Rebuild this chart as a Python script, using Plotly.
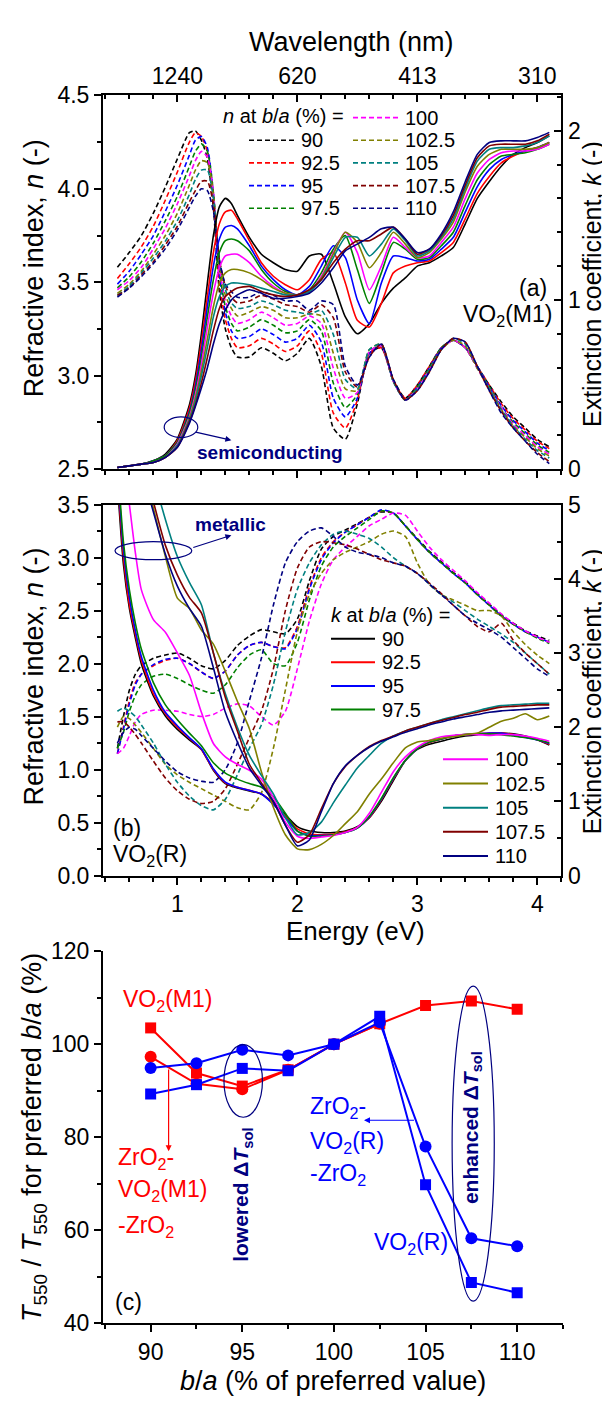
import plotly.graph_objects as go

# ---------------- data ----------------
ratios = ["90", "92.5", "95", "97.5", "100", "102.5", "105", "107.5", "110"]
colors = ["#000000", "#FF0000", "#0000FF", "#008000", "#FF00FF",
          "#808000", "#008080", "#800000", "#000080"]

# panel (a): VO2(M1)
E_a = [0.5, 0.6, 0.7, 0.8, 0.9, 1.0, 1.1, 1.15, 1.2, 1.25, 1.3, 1.35, 1.4, 1.45, 1.5,
       1.6, 1.7, 1.8, 1.9, 2.0, 2.1, 2.2, 2.3, 2.4, 2.5, 2.6, 2.7, 2.8, 2.9, 3.0,
       3.1, 3.2, 3.3, 3.4, 3.5, 3.6, 3.7, 3.8, 3.9, 4.0, 4.1]
n_M1 = [
    [3.58, 3.66, 3.75, 3.87, 4.01, 4.16, 4.30, 4.31, 4.26, 4.16, 3.90, 3.45, 3.25, 3.15, 3.10, 3.10, 3.15, 3.12, 3.08, 3.12, 3.20, 3.05, 2.72, 2.66, 2.85, 3.12, 3.15, 2.98, 2.88, 2.95, 3.05, 3.15, 3.19, 3.15, 3.05, 2.95, 2.86, 2.78, 2.72, 2.66, 2.62],
    [3.52, 3.60, 3.69, 3.80, 3.94, 4.09, 4.25, 4.30, 4.28, 4.20, 3.95, 3.50, 3.30, 3.20, 3.15, 3.16, 3.20, 3.17, 3.13, 3.16, 3.24, 3.12, 2.80, 2.72, 2.87, 3.12, 3.15, 2.97, 2.88, 2.95, 3.05, 3.15, 3.19, 3.15, 3.05, 2.95, 2.85, 2.77, 2.71, 2.65, 2.61],
    [3.49, 3.56, 3.65, 3.75, 3.88, 4.02, 4.18, 4.26, 4.28, 4.22, 3.98, 3.54, 3.34, 3.24, 3.20, 3.21, 3.25, 3.22, 3.18, 3.20, 3.27, 3.18, 2.88, 2.78, 2.88, 3.12, 3.16, 2.97, 2.87, 2.94, 3.04, 3.15, 3.19, 3.15, 3.05, 2.94, 2.84, 2.76, 2.70, 2.64, 2.60],
    [3.47, 3.53, 3.61, 3.71, 3.83, 3.96, 4.12, 4.20, 4.24, 4.20, 3.98, 3.56, 3.37, 3.28, 3.24, 3.26, 3.30, 3.27, 3.23, 3.24, 3.30, 3.24, 2.96, 2.83, 2.90, 3.13, 3.16, 2.97, 2.87, 2.94, 3.04, 3.15, 3.19, 3.15, 3.04, 2.94, 2.83, 2.75, 2.69, 2.63, 2.59],
    [3.46, 3.51, 3.58, 3.68, 3.79, 3.92, 4.07, 4.15, 4.20, 4.17, 3.98, 3.58, 3.40, 3.32, 3.28, 3.30, 3.34, 3.31, 3.27, 3.28, 3.32, 3.28, 3.04, 2.88, 2.91, 3.13, 3.16, 2.97, 2.87, 2.93, 3.03, 3.14, 3.19, 3.15, 3.04, 2.93, 2.83, 2.74, 2.68, 2.62, 2.58],
    [3.44, 3.49, 3.56, 3.65, 3.75, 3.87, 4.02, 4.10, 4.15, 4.14, 3.97, 3.60, 3.43, 3.36, 3.32, 3.34, 3.37, 3.35, 3.31, 3.31, 3.33, 3.32, 3.12, 2.93, 2.92, 3.14, 3.17, 2.97, 2.87, 2.93, 3.03, 3.14, 3.19, 3.16, 3.04, 2.93, 2.82, 2.73, 2.67, 2.61, 2.57],
    [3.43, 3.48, 3.55, 3.63, 3.72, 3.83, 3.97, 4.05, 4.10, 4.10, 3.95, 3.62, 3.46, 3.39, 3.36, 3.37, 3.40, 3.38, 3.35, 3.34, 3.33, 3.35, 3.22, 2.98, 2.93, 3.14, 3.17, 2.97, 2.87, 2.93, 3.03, 3.14, 3.20, 3.17, 3.05, 2.93, 2.82, 2.73, 2.66, 2.60, 2.56],
    [3.43, 3.47, 3.54, 3.61, 3.70, 3.80, 3.93, 3.99, 4.04, 4.04, 3.92, 3.62, 3.48, 3.42, 3.39, 3.40, 3.43, 3.41, 3.38, 3.37, 3.34, 3.38, 3.31, 3.02, 2.94, 3.10, 3.17, 2.98, 2.87, 2.92, 3.02, 3.14, 3.20, 3.18, 3.05, 2.92, 2.81, 2.72, 2.65, 2.59, 2.54],
    [3.42, 3.47, 3.53, 3.60, 3.68, 3.78, 3.90, 3.96, 4.00, 3.99, 3.88, 3.62, 3.49, 3.45, 3.42, 3.42, 3.45, 3.43, 3.40, 3.40, 3.35, 3.40, 3.38, 3.05, 2.95, 3.10, 3.17, 2.98, 2.87, 2.92, 3.02, 3.14, 3.20, 3.18, 3.05, 2.92, 2.80, 2.72, 2.65, 2.58, 2.53],
]
k_M1 = [
    [0.01, 0.02, 0.03, 0.05, 0.09, 0.18, 0.38, 0.55, 0.80, 1.10, 1.38, 1.55, 1.60, 1.57, 1.50, 1.37, 1.27, 1.22, 1.18, 1.17, 1.26, 1.27, 1.10, 0.90, 0.80, 0.86, 0.98, 1.07, 1.13, 1.20, 1.22, 1.26, 1.31, 1.45, 1.60, 1.70, 1.79, 1.86, 1.90, 1.93, 1.97],
    [0.01, 0.02, 0.03, 0.05, 0.08, 0.17, 0.36, 0.52, 0.75, 1.02, 1.28, 1.45, 1.52, 1.53, 1.48, 1.35, 1.22, 1.14, 1.09, 1.06, 1.12, 1.24, 1.28, 1.10, 0.88, 0.84, 0.98, 1.16, 1.20, 1.22, 1.23, 1.28, 1.34, 1.48, 1.63, 1.73, 1.81, 1.85, 1.88, 1.90, 1.93],
    [0.01, 0.02, 0.03, 0.05, 0.08, 0.16, 0.34, 0.49, 0.70, 0.96, 1.20, 1.36, 1.43, 1.44, 1.42, 1.32, 1.20, 1.12, 1.06, 1.03, 1.08, 1.20, 1.32, 1.25, 1.00, 0.86, 1.10, 1.26, 1.25, 1.23, 1.24, 1.30, 1.37, 1.52, 1.67, 1.77, 1.83, 1.86, 1.88, 1.90, 1.93],
    [0.01, 0.02, 0.03, 0.05, 0.08, 0.16, 0.33, 0.47, 0.66, 0.90, 1.12, 1.28, 1.35, 1.36, 1.35, 1.29, 1.18, 1.10, 1.05, 1.03, 1.06, 1.16, 1.30, 1.38, 1.18, 0.98, 1.16, 1.34, 1.30, 1.24, 1.25, 1.32, 1.40, 1.56, 1.71, 1.80, 1.85, 1.86, 1.87, 1.89, 1.92],
    [0.01, 0.02, 0.03, 0.04, 0.07, 0.15, 0.31, 0.44, 0.62, 0.84, 1.04, 1.19, 1.26, 1.27, 1.27, 1.22, 1.14, 1.08, 1.04, 1.03, 1.05, 1.14, 1.28, 1.40, 1.28, 1.06, 1.20, 1.37, 1.31, 1.25, 1.26, 1.34, 1.43, 1.60, 1.75, 1.83, 1.87, 1.88, 1.88, 1.89, 1.92],
    [0.01, 0.02, 0.03, 0.04, 0.07, 0.14, 0.30, 0.42, 0.58, 0.77, 0.96, 1.10, 1.16, 1.18, 1.18, 1.16, 1.12, 1.07, 1.04, 1.03, 1.05, 1.13, 1.27, 1.40, 1.34, 1.19, 1.28, 1.40, 1.33, 1.25, 1.28, 1.36, 1.46, 1.64, 1.79, 1.86, 1.89, 1.89, 1.89, 1.90, 1.93],
    [0.01, 0.02, 0.03, 0.04, 0.07, 0.14, 0.29, 0.40, 0.55, 0.72, 0.90, 1.02, 1.08, 1.10, 1.10, 1.09, 1.07, 1.05, 1.03, 1.03, 1.05, 1.12, 1.25, 1.37, 1.37, 1.26, 1.33, 1.42, 1.35, 1.26, 1.29, 1.37, 1.48, 1.66, 1.82, 1.89, 1.90, 1.90, 1.91, 1.93, 1.97],
    [0.01, 0.02, 0.03, 0.04, 0.07, 0.13, 0.28, 0.38, 0.51, 0.66, 0.82, 0.95, 1.02, 1.05, 1.07, 1.08, 1.05, 1.03, 1.02, 1.03, 1.06, 1.12, 1.22, 1.30, 1.35, 1.35, 1.39, 1.43, 1.36, 1.27, 1.30, 1.38, 1.50, 1.68, 1.84, 1.91, 1.92, 1.92, 1.92, 1.94, 1.98],
    [0.01, 0.02, 0.03, 0.04, 0.07, 0.13, 0.27, 0.37, 0.48, 0.60, 0.74, 0.86, 0.94, 1.00, 1.03, 1.06, 1.04, 1.01, 1.01, 1.02, 1.04, 1.10, 1.19, 1.29, 1.33, 1.37, 1.42, 1.43, 1.36, 1.28, 1.30, 1.39, 1.52, 1.70, 1.86, 1.93, 1.94, 1.94, 1.94, 1.96, 1.99],
]

# panel (b): VO2(R)
E_b = [0.5, 0.55, 0.6, 0.65, 0.7, 0.8, 0.9, 1.0, 1.1, 1.2, 1.3, 1.4, 1.5, 1.6, 1.7,
       1.8, 1.9, 2.0, 2.1, 2.2, 2.3, 2.4, 2.5, 2.6, 2.7, 2.8, 2.9, 3.0, 3.1, 3.2,
       3.3, 3.4, 3.5, 3.6, 3.7, 3.8, 3.9, 4.0, 4.1]
n_R = [
    [1.20, 1.50, 1.75, 1.90, 1.98, 2.05, 2.08, 2.10, 2.05, 1.98, 1.95, 2.03, 2.17, 2.26, 2.32, 2.30, 2.28, 2.42, 2.78, 3.08, 3.20, 3.26, 3.32, 3.38, 3.43, 3.42, 3.30, 3.18, 3.06, 2.96, 2.86, 2.77, 2.66, 2.56, 2.46, 2.38, 2.31, 2.26, 2.22],
    [1.15, 1.40, 1.65, 1.82, 1.90, 1.98, 2.03, 2.05, 2.00, 1.92, 1.86, 1.93, 2.08, 2.17, 2.20, 2.16, 2.15, 2.35, 2.72, 3.00, 3.15, 3.24, 3.31, 3.38, 3.44, 3.42, 3.30, 3.17, 3.05, 2.95, 2.85, 2.76, 2.65, 2.55, 2.45, 2.37, 2.30, 2.25, 2.20],
    [1.15, 1.38, 1.62, 1.80, 1.90, 1.99, 2.04, 2.05, 2.00, 1.92, 1.86, 1.93, 2.08, 2.17, 2.20, 2.16, 2.14, 2.33, 2.70, 2.98, 3.14, 3.24, 3.31, 3.38, 3.45, 3.42, 3.30, 3.17, 3.05, 2.95, 2.85, 2.76, 2.65, 2.55, 2.45, 2.37, 2.30, 2.25, 2.20],
    [1.20, 1.35, 1.55, 1.70, 1.80, 1.88, 1.90, 1.86, 1.80, 1.75, 1.72, 1.80, 1.96, 2.08, 2.13, 2.00, 1.98, 2.20, 2.60, 2.92, 3.10, 3.20, 3.28, 3.36, 3.44, 3.42, 3.30, 3.17, 3.05, 2.95, 2.85, 2.76, 2.65, 2.55, 2.45, 2.37, 2.30, 2.24, 2.19],
    [1.15, 1.20, 1.32, 1.45, 1.52, 1.56, 1.56, 1.55, 1.52, 1.50, 1.52, 1.58, 1.62, 1.60, 1.50, 1.42, 1.55, 1.95, 2.40, 2.75, 2.98, 3.10, 3.20, 3.30, 3.36, 3.42, 3.40, 3.25, 3.10, 2.98, 2.88, 2.78, 2.67, 2.57, 2.47, 2.38, 2.31, 2.25, 2.20],
    [1.40, 1.50, 1.48, 1.42, 1.35, 1.20, 1.05, 0.95, 0.88, 0.82, 0.76, 0.70, 0.64, 0.62, 0.78, 1.20, 1.75, 2.30, 2.65, 2.85, 2.98, 3.05, 3.10, 3.15, 3.22, 3.25, 3.20, 2.95, 2.75, 2.65, 2.60, 2.55, 2.50, 2.50, 2.45, 2.30, 2.18, 2.08, 2.00],
    [1.55, 1.58, 1.55, 1.50, 1.42, 1.25, 1.05, 0.88, 0.75, 0.66, 0.62, 0.72, 0.95, 1.20, 1.42, 1.80, 2.30, 2.70, 2.95, 3.12, 3.22, 3.25, 3.22, 3.18, 3.10, 3.00, 2.92, 2.85, 2.75, 2.65, 2.58, 2.50, 2.42, 2.35, 2.28, 2.20, 2.10, 2.00, 1.90],
    [1.45, 1.45, 1.40, 1.33, 1.25, 1.08, 0.92, 0.80, 0.72, 0.68, 0.70, 0.82, 1.05, 1.30, 1.55, 1.95, 2.50, 2.90, 3.10, 3.15, 3.14, 3.12, 3.08, 3.03, 2.98, 2.95, 2.92, 2.85, 2.76, 2.66, 2.55, 2.45, 2.35, 2.30, 2.38, 2.22, 2.10, 2.00, 1.90],
    [1.25, 1.35, 1.40, 1.38, 1.32, 1.20, 1.08, 0.98, 0.92, 0.89, 0.88, 1.00, 1.25, 1.65, 2.05, 2.55, 2.95, 3.15, 3.25, 3.28, 3.20, 3.10, 3.05, 3.03, 3.00, 2.95, 2.92, 2.85, 2.75, 2.65, 2.55, 2.45, 2.38, 2.32, 2.25, 2.15, 2.05, 1.95, 1.88],
]
k_R = [
    [5.30, 4.20, 3.60, 3.20, 2.85, 2.42, 2.15, 1.97, 1.83, 1.70, 1.42, 1.24, 1.18, 1.14, 1.10, 0.98, 0.82, 0.66, 0.60, 0.58, 0.58, 0.60, 0.66, 0.78, 1.00, 1.28, 1.55, 1.70, 1.77, 1.81, 1.85, 1.88, 1.90, 1.91, 1.92, 1.91, 1.88, 1.83, 1.76],
    [5.40, 4.30, 3.65, 3.25, 2.90, 2.45, 2.18, 2.00, 1.85, 1.70, 1.43, 1.25, 1.19, 1.15, 1.10, 0.97, 0.80, 0.63, 0.56, 0.55, 0.56, 0.59, 0.65, 0.78, 1.02, 1.30, 1.55, 1.71, 1.79, 1.84, 1.88, 1.90, 1.91, 1.92, 1.92, 1.90, 1.87, 1.83, 1.77],
    [5.50, 4.40, 3.75, 3.30, 2.95, 2.50, 2.20, 2.02, 1.86, 1.71, 1.44, 1.26, 1.19, 1.15, 1.10, 0.96, 0.78, 0.60, 0.54, 0.54, 0.55, 0.58, 0.64, 0.79, 1.03, 1.31, 1.55, 1.71, 1.80, 1.84, 1.88, 1.90, 1.91, 1.92, 1.92, 1.89, 1.86, 1.83, 1.78],
    [5.60, 4.50, 3.85, 3.40, 3.05, 2.60, 2.30, 2.10, 1.92, 1.75, 1.52, 1.38, 1.30, 1.24, 1.19, 1.06, 0.84, 0.60, 0.53, 0.53, 0.55, 0.58, 0.64, 0.80, 1.04, 1.32, 1.55, 1.71, 1.80, 1.84, 1.88, 1.90, 1.91, 1.91, 1.90, 1.88, 1.86, 1.83, 1.79],
    [6.50, 5.60, 5.00, 4.35, 3.85, 3.45, 3.28, 3.00, 2.70, 2.20, 1.78, 1.60, 1.50, 1.42, 1.30, 1.05, 0.72, 0.53, 0.50, 0.52, 0.54, 0.58, 0.65, 0.84, 1.12, 1.40, 1.60, 1.73, 1.82, 1.87, 1.89, 1.90, 1.90, 1.89, 1.90, 1.90, 1.88, 1.85, 1.81],
    [8.00, 7.50, 7.00, 6.30, 5.60, 4.95, 4.30, 3.74, 3.60, 3.31, 3.12, 2.75, 2.35, 1.98, 1.40, 0.92, 0.55, 0.36, 0.35, 0.42, 0.54, 0.70, 0.86, 1.10, 1.30, 1.52, 1.72, 1.80, 1.82, 1.85, 1.87, 1.90, 1.92, 2.00, 2.08, 2.12, 2.18, 2.10, 2.15],
    [8.00, 7.60, 7.20, 6.70, 6.20, 5.40, 4.80, 4.30, 3.95, 3.65, 3.00, 2.45, 2.00, 1.62, 1.35, 1.10, 0.78, 0.55, 0.58, 0.72, 0.98, 1.22, 1.45, 1.62, 1.78, 1.88, 1.95, 2.00, 2.05, 2.10, 2.14, 2.18, 2.22, 2.26, 2.29, 2.30, 2.31, 2.32, 2.32],
    [8.00, 7.40, 6.80, 6.20, 5.70, 5.04, 4.45, 4.05, 3.75, 3.54, 3.00, 2.40, 1.95, 1.50, 1.25, 1.00, 0.68, 0.45, 0.55, 0.90, 1.24, 1.47, 1.62, 1.74, 1.82, 1.88, 1.95, 2.00, 2.05, 2.09, 2.13, 2.17, 2.20, 2.24, 2.27, 2.28, 2.29, 2.30, 2.30],
    [8.00, 7.20, 6.60, 6.00, 5.50, 4.90, 4.33, 3.90, 3.60, 3.36, 2.80, 2.20, 1.80, 1.45, 1.22, 1.00, 0.68, 0.40, 0.48, 0.86, 1.24, 1.48, 1.62, 1.73, 1.81, 1.87, 1.93, 1.98, 2.03, 2.07, 2.11, 2.14, 2.17, 2.20, 2.22, 2.23, 2.24, 2.25, 2.26],
]

# panel (c): T550 / T550(preferred b/a)
ba = [90, 92.5, 95, 97.5, 100, 102.5, 105, 107.5, 110]
T_M1 = [103.5, 93.8, 91.0, 94.5, 100.0, 104.4, 108.3, 109.3, 107.5]
T_ZMZ = [97.3, 91.5, 90.3, 94.5, 100.0, 104.4]
T_ZRZ = [94.9, 95.9, 98.8, 97.6, 100.0, 104.7, 78.0, 58.3, 56.6]
T_R = [89.3, 91.3, 94.8, 94.3, 100.0, 106.0, 69.8, 48.8, 46.6]

wl_tick_E = [1, 2, 3, 4]
wl_tick_text = ["1240", "620", "413", "310"]

# ---------------- figure ----------------
W, H = 610, 1403
FONT = "Liberation Sans, Arial, sans-serif"
NAVY = "#000080"
RED, BLUE = "#FF0000", "#0000FF"


def px(x):
    return x / W


def py(y):
    return 1 - y / H


fig = go.Figure()

DASH = "5px,3px"
for i, r in enumerate(ratios):
    fig.add_trace(go.Scatter(x=E_a, y=n_M1[i], mode="lines", xaxis="x", yaxis="y",
                             line=dict(color=colors[i], width=1.6, dash=DASH, shape="spline", smoothing=0.6),
                             showlegend=False, name="n " + r))
for i, r in enumerate(ratios):
    fig.add_trace(go.Scatter(x=E_a, y=k_M1[i], mode="lines", xaxis="x2", yaxis="y2",
                             line=dict(color=colors[i], width=1.6, shape="spline", smoothing=0.6),
                             showlegend=False, name="k " + r))
for i, r in enumerate(ratios):
    fig.add_trace(go.Scatter(x=E_b, y=n_R[i], mode="lines", xaxis="x3", yaxis="y3",
                             line=dict(color=colors[i], width=1.6, dash=DASH, shape="spline", smoothing=0.6),
                             showlegend=False, name="n " + r))
for i, r in enumerate(ratios):
    fig.add_trace(go.Scatter(x=E_b, y=k_R[i], mode="lines", xaxis="x3", yaxis="y4",
                             line=dict(color=colors[i], width=1.6, shape="spline", smoothing=0.6),
                             showlegend=False, name="k " + r))

fig.add_trace(go.Scatter(x=ba, y=T_M1, mode="lines+markers", xaxis="x4", yaxis="y5",
                         line=dict(color=RED, width=2), marker=dict(symbol="square", size=11, color=RED),
                         showlegend=False))
fig.add_trace(go.Scatter(x=ba[:len(T_ZMZ)], y=T_ZMZ, mode="lines+markers", xaxis="x4", yaxis="y5",
                         line=dict(color=RED, width=2), marker=dict(symbol="circle", size=12, color=RED),
                         showlegend=False))
fig.add_trace(go.Scatter(x=ba, y=T_ZRZ, mode="lines+markers", xaxis="x4", yaxis="y5",
                         line=dict(color=BLUE, width=2), marker=dict(symbol="circle", size=12, color=BLUE),
                         showlegend=False))
fig.add_trace(go.Scatter(x=ba, y=T_R, mode="lines+markers", xaxis="x4", yaxis="y5",
                         line=dict(color=BLUE, width=2), marker=dict(symbol="square", size=11, color=BLUE),
                         showlegend=False))

XD = [px(95), px(553.3)]
YA = [py(456.7), py(75.7)]
YB = [py(870.7), py(492.7)]
XC = [px(95), px(555)]
YC = [py(1327), py(947.7)]
TF = dict(family=FONT, size=23, color="black")


def ax(**kw):
    d = dict(showgrid=False, zeroline=False, showline=True, linecolor="black", linewidth=2,
             tickcolor="black", tickwidth=1.5, ticklen=7, tickfont=TF)
    d.update(kw)
    return d


def mn(dt, side, t0=0):
    return dict(dtick=dt, tick0=t0, ticks=side, ticklen=4, tickwidth=1.5, tickcolor="black", showgrid=False)


ER = [0.38, 4.2]
fig.update_layout(
    width=W, height=H, margin=dict(l=0, r=0, t=0, b=0),
    paper_bgcolor="white", plot_bgcolor="white", showlegend=False,
    font=dict(family=FONT, color="black"),
    xaxis=ax(domain=XD, anchor="y", range=ER, tickvals=wl_tick_E, showticklabels=False,
             ticks="outside", minor=mn(0.2, "outside")),
    xaxis2=ax(overlaying="x", anchor="y2", side="top", range=ER, tickmode="array", tickvals=wl_tick_E,
              ticktext=wl_tick_text, showticklabels=True, ticks="inside", minor=mn(0.2, "inside")),
    yaxis=ax(domain=YA, anchor="x", range=[2.5, 4.5], dtick=0.5, tick0=2.5, tickformat=".1f",
             ticks="outside", minor=mn(0.25, "outside", 2.5)),
    yaxis2=ax(overlaying="y", anchor="x2", side="right", range=[0, 2.209], tickvals=[0, 1, 2],
              ticks="inside", minor=mn(0.2, "inside")),
    xaxis3=ax(domain=XD, anchor="y3", range=ER, tickvals=[1, 2, 3, 4], ticks="outside",
              mirror=True, minor=mn(0.2, "outside")),
    yaxis3=ax(domain=YB, anchor="x3", range=[0, 3.5], dtick=0.5, tick0=0, tickformat=".1f",
              ticks="outside", minor=mn(0.25, "outside")),
    yaxis4=ax(overlaying="y3", anchor="x3", side="right", range=[0, 5], dtick=1,
              ticks="inside", minor=mn(0.5, "inside")),
    xaxis4=ax(domain=XC, anchor="y5", range=[87.4, 112.5], tickvals=[90, 95, 100, 105, 110],
              ticks="outside", minor=mn(2.5, "outside", 87.5)),
    xaxis5=ax(overlaying="x4", anchor="y5", side="top", range=[87.4, 112.5],
              tickvals=[90, 95, 100, 105, 110], showticklabels=False, ticks="inside",
              minor=mn(2.5, "inside", 87.5)),
    yaxis5=ax(domain=YC, anchor="x4", range=[40, 120], dtick=20, ticks="outside",
              minor=mn(10, "outside")),
    yaxis6=ax(overlaying="y5", anchor="x4", side="right", range=[40, 120], dtick=20,
              showticklabels=False, ticks="inside", minor=mn(10, "inside")),
)

ann = []


def txt(x, y, s, size=22, color="black", xanchor="left", angle=0, bold=False):
    if bold:
        s = "<b>" + s + "</b>"
    ann.append(dict(x=px(x), y=py(y), xref="paper", yref="paper", text=s, showarrow=False,
                    xanchor=xanchor, yanchor="middle", textangle=angle,
                    font=dict(family=FONT, size=size, color=color)))


# axis titles
TS = 27
txt(343, 21, "Wavelength (nm)", TS, xanchor="center")
txt(347, 927, "Energy (eV)", 26, xanchor="center")
txt(325, 1386, "<i>b</i>/<i>a</i> (% of preferred value)", TS, xanchor="center")
txt(26, 252, "Refractive index, <i>n</i> (-)", TS, xanchor="center", angle=-90)
txt(26, 668, "Refractive index, <i>n</i> (-)", TS, xanchor="center", angle=-90)
txt(584, 268, "Extinction coefficient, <i>k</i> (-)", 25, xanchor="center", angle=-90)
txt(584, 683, "Extinction coefficient, <i>k</i> (-)", 25, xanchor="center", angle=-90)
txt(26, 1138, "<i>T</i><sub>550</sub> / <i>T</i><sub>550</sub> for preferred <i>b</i>/<i>a</i> (%)",
    TS, xanchor="center", angle=-90)

# panel labels
txt(541, 272, "(a)", 23, xanchor="right")
txt(546, 300, "VO<sub>2</sub>(M1)", 23, xanchor="right")
txt(103, 822, "(b)", 23)
txt(103, 850, "VO<sub>2</sub>(R)", 23)
txt(105, 1305, "(c)", 23)
txt(187, 440, "semiconducting", 19, color=NAVY, bold=True)
txt(185, 513, "metallic", 19, color=NAVY, bold=True)

# panel c labels
txt(113, 998, "VO<sub>2</sub>(M1)", 23, color=RED)
txt(108, 1159, "ZrO<sub>2</sub>-", 23, color=RED)
txt(108, 1192, "VO<sub>2</sub>(M1)", 23, color=RED)
txt(108, 1228, "-ZrO<sub>2</sub>", 23, color=RED)
txt(300, 1107, "ZrO<sub>2</sub>-", 23, color=BLUE)
txt(300, 1143, "VO<sub>2</sub>(R)", 23, color=BLUE)
txt(300, 1175, "-ZrO<sub>2</sub>", 23, color=BLUE)
txt(364, 1246, "VO<sub>2</sub>(R)", 23, color=BLUE)
txt(234, 1196, "lowered Δ<i>T</i><sub>sol</sub>", 21, color=NAVY, angle=-90, bold=True, xanchor="center")
txt(464, 1128, "enhanced Δ<i>T</i><sub>sol</sub>", 21, color=NAVY, angle=-90, bold=True, xanchor="center")

# legends (built from the series lists)
LF = 20
txt(213, 97, "<i>n</i> at <i>b</i>/<i>a</i> (%) =", LF)
txt(321, 605, "<i>k</i> at <i>b</i>/<i>a</i> (%) =", LF)
shapes = []
for i, r in enumerate(ratios):
    # panel a
    if i < 4:
        yy, x0, x1 = 121.5 + 23.1 * i, 241, 288
    else:
        yy, x0, x1 = 98.4 + 23.1 * (i - 4), 345, 392
    shapes.append(dict(type="line", xref="paper", yref="paper", x0=px(x0), x1=px(x1), y0=py(yy), y1=py(yy),
                       line=dict(color=colors[i], width=1.6, dash=DASH)))
    txt(x1 + 3, yy, r, LF)
    # panel b
    if i < 4:
        yy, x0, x1 = 629.3 + 24.1 * i, 323, 367
    else:
        yy, x0, x1 = 752.3 + 24.6 * (i - 4), 435, 480
    shapes.append(dict(type="line", xref="paper", yref="paper", x0=px(x0), x1=px(x1), y0=py(yy), y1=py(yy),
                       line=dict(color=colors[i], width=2)))
    txt(x1 + 5, yy, r, LF)

# ellipses
shapes.append(dict(type="circle", xref="x", yref="y", x0=0.89, x1=1.17, y0=2.67, y1=2.78,
                   line=dict(color=NAVY, width=1.2)))
shapes.append(dict(type="circle", xref="x3", yref="y3", x0=0.48, x1=1.12, y0=2.98, y1=3.15,
                   line=dict(color=NAVY, width=1.2)))
shapes.append(dict(type="circle", xref="x4", yref="y5", x0=94.0, x1=96.1, y0=84.3, y1=99.9,
                   line=dict(color=NAVY, width=1.2)))
shapes.append(dict(type="circle", xref="x4", yref="y5", x0=106.45, x1=108.75, y0=44.8, y1=112.5,
                   line=dict(color=NAVY, width=1.2)))


def arrow(x, y, axx, ayy, xr, yr, color):
    ann.append(dict(x=x, y=y, ax=axx, ay=ayy, xref=xr, yref=yr, axref=xr, ayref=yr, text="",
                    showarrow=True, arrowhead=2, arrowsize=1, arrowwidth=1.2, arrowcolor=color))


arrow(1.45, 2.655, 1.14, 2.70, "x", "y", NAVY)
arrow(1.45, 3.21, 1.12, 3.09, "x3", "y3", NAVY)
arrow(90.98, 77.0, 90.98, 94.9, "x4", "y5", RED)
arrow(101.64, 83.66, 104.45, 83.66, "x4", "y5", BLUE)

fig.update_layout(annotations=ann, shapes=shapes)
fig.write_html("out.html")
